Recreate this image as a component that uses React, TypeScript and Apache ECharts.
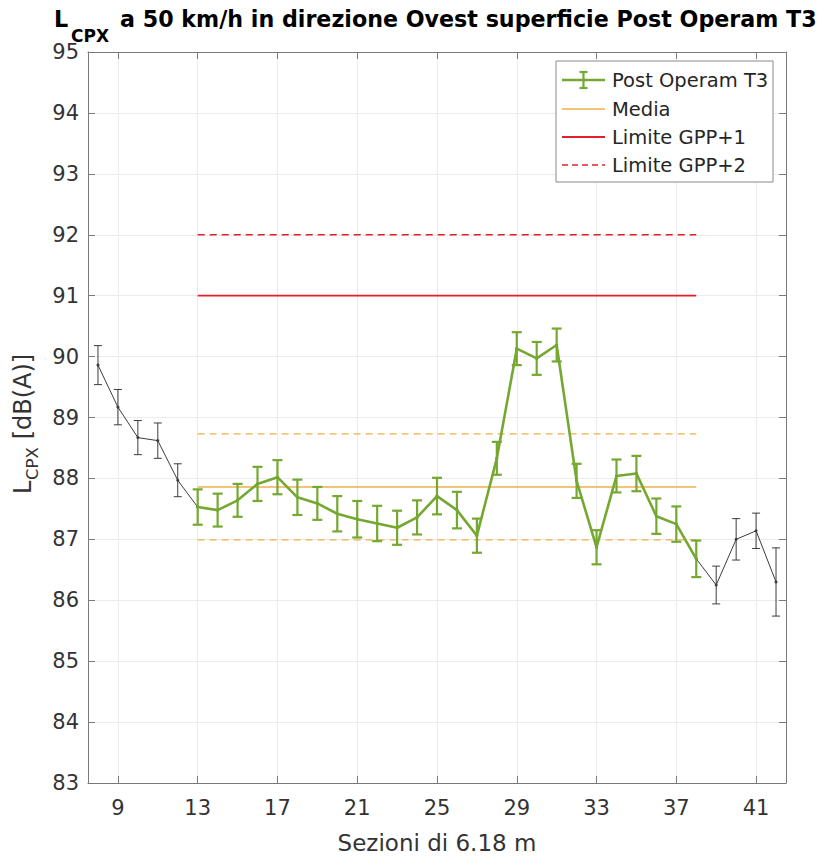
import React, { useEffect, useRef } from "react";
import * as echarts from "echarts";

// ---- data ----
const sections = [8, 9, 10, 11, 12, 13, 14, 15, 16, 17, 18, 19, 20, 21, 22, 23, 24, 25, 26, 27, 28, 29, 30, 31, 32, 33, 34, 35, 36, 37, 38, 39, 40, 41, 42];
const levels = [89.86, 89.17, 88.67, 88.62, 87.97, 87.53, 87.48, 87.64, 87.91, 88.02, 87.69, 87.59, 87.42, 87.33, 87.26, 87.19, 87.36, 87.71, 87.48, 87.06, 88.33, 90.13, 89.97, 90.19, 87.96, 86.87, 88.04, 88.08, 87.38, 87.25, 86.68, 86.25, 87.0, 87.14, 86.3];
const errors = [0.32, 0.29, 0.28, 0.29, 0.27, 0.29, 0.27, 0.27, 0.28, 0.28, 0.29, 0.27, 0.29, 0.3, 0.29, 0.28, 0.28, 0.3, 0.3, 0.28, 0.27, 0.27, 0.27, 0.27, 0.28, 0.28, 0.27, 0.29, 0.29, 0.29, 0.3, 0.31, 0.34, 0.29, 0.56];
const segmentStart = 13;
const segmentEnd = 38;
const mediaValue = 87.86;
const mediaUpper = 88.73;
const mediaLower = 86.99;
const limitGpp1 = 91;
const limitGpp2 = 92;
const xTickValues = [9, 13, 17, 21, 25, 29, 33, 37, 41];
const xMin = 7.5;
const xMax = 42.5;
const yMin = 83;
const yMax = 95;

const titleMain = "L";
const titleSub = "CPX";
const titleRest = "a 50 km/h in direzione Ovest superficie Post Operam T3";
const xName = "Sezioni di 6.18 m";
const yNameMain = "L";
const yNameSub = "CPX";
const yNameRest = " [dB(A)]";
const legendNames = ["Post Operam T3", "Media", "Limite GPP+1", "Limite GPP+2"];

const GREEN = "#74A830";
const BLACK = "#3c3c3c";
const ORANGE = "#EDB04E";
const RED = "#E3202A";
const FONT = "DejaVu Sans";

function errorBarSeries(name: string, data: number[][], color: string, lw: number, cap: number, z: number) {
  return {
    type: "custom",
    name,
    z,
    data,
    encode: { x: 0, y: [1, 2] },
    renderItem: (params: any, api: any) => {
      const x = api.value(0);
      const lo = api.coord([x, api.value(1)]);
      const hi = api.coord([x, api.value(2)]);
      const st = { stroke: color, lineWidth: lw };
      const h = cap / 2;
      return {
        type: "group",
        children: [
          { type: "line", shape: { x1: lo[0], y1: lo[1], x2: hi[0], y2: hi[1] }, style: st },
          { type: "line", shape: { x1: lo[0] - h, y1: lo[1], x2: lo[0] + h, y2: lo[1] }, style: st },
          { type: "line", shape: { x1: hi[0] - h, y1: hi[1], x2: hi[0] + h, y2: hi[1] }, style: st },
        ],
      };
    },
  };
}

function hLine(name: string, y: number, color: string, width: number, dashed: boolean, z: number) {
  return {
    type: "line",
    name,
    z,
    data: [[segmentStart, y], [segmentEnd, y]],
    symbol: "none",
    lineStyle: { color, width, type: dashed ? [7, 5] : "solid" },
    silent: true,
  };
}

export default function App() {
  const ref = useRef<HTMLDivElement>(null);
  useEffect(() => {
    if (!ref.current) return;
    const chart = echarts.init(ref.current, undefined, { renderer: "svg" });

    const allPts = sections.map((x, i) => [x, levels[i]]);
    const greenIdx = sections.map((x, i) => i).filter((i) => sections[i] >= segmentStart && sections[i] <= segmentEnd);
    const greenPts = greenIdx.map((i) => [sections[i], levels[i]]);
    const greenErr = greenIdx.map((i) => [sections[i], levels[i] - errors[i], levels[i] + errors[i]]);
    const blackErr = sections
      .map((x, i) => i)
      .filter((i) => sections[i] < segmentStart || sections[i] > segmentEnd)
      .map((i) => [sections[i], levels[i] - errors[i], levels[i] + errors[i]]);

    const axisLineStyle = { color: "#7a7a7a", width: 1 };
    const labelStyle = { fontSize: 21, color: "#333", fontFamily: FONT };

    // legend geometry
    const lx = 556, ly = 61, lw = 217, lh = 121;
    const rowY = [80, 109, 137, 165];
    const sx1 = 562, sx2 = 605, tx = 612;

    const option: any = {
      animation: false,
      backgroundColor: "#fff",
      grid: { left: 88, right: 38, top: 52, bottom: 76, containLabel: false },
      xAxis: [
        {
          type: "value",
          min: xMin,
          max: xMax,
          position: "bottom",
          axisLine: { show: true, lineStyle: axisLineStyle },
          axisTick: { show: true, inside: true, length: 7, customValues: xTickValues, lineStyle: axisLineStyle },
          axisLabel: { show: true, customValues: xTickValues, margin: 14, ...labelStyle },
          splitLine: { show: true, lineStyle: { color: "#ebebeb", width: 1 } },
        },
        {
          type: "value",
          min: xMin,
          max: xMax,
          position: "top",
          axisLine: { show: true, lineStyle: axisLineStyle },
          axisTick: { show: true, inside: true, length: 7, customValues: xTickValues, lineStyle: axisLineStyle },
          axisLabel: { show: false },
          splitLine: { show: false },
        },
      ],
      yAxis: [
        {
          type: "value",
          min: yMin,
          max: yMax,
          interval: 1,
          position: "left",
          axisLine: { show: true, lineStyle: axisLineStyle },
          axisTick: { show: true, inside: true, length: 7, lineStyle: axisLineStyle },
          axisLabel: { show: true, margin: 9, ...labelStyle },
          splitLine: { show: true, lineStyle: { color: "#ebebeb", width: 1 } },
        },
        {
          type: "value",
          min: yMin,
          max: yMax,
          interval: 1,
          position: "right",
          axisLine: { show: true, lineStyle: axisLineStyle },
          axisTick: { show: true, inside: true, length: 7, lineStyle: axisLineStyle },
          axisLabel: { show: false },
          splitLine: { show: false },
        },
      ],
      series: [
        hLine("Limite GPP+2", limitGpp2, RED, 1.3, true, 3),
        hLine("Limite GPP+1", limitGpp1, RED, 1.8, false, 3),
        hLine("Media +", mediaUpper, ORANGE, 1.2, true, 3),
        hLine("Media -", mediaLower, ORANGE, 1.2, true, 3),
        hLine("Media", mediaValue, ORANGE, 1.6, false, 3),
        {
          type: "line",
          name: "all",
          z: 4,
          data: allPts,
          symbol: "circle",
          symbolSize: 3,
          itemStyle: { color: BLACK },
          lineStyle: { color: BLACK, width: 1 },
        },
        errorBarSeries("errAll", blackErr, BLACK, 1, 8, 4),
        {
          type: "line",
          name: "Post Operam T3",
          z: 6,
          data: greenPts,
          symbol: "none",
          lineStyle: { color: GREEN, width: 2.6 },
        },
        errorBarSeries("errGreen", greenErr, GREEN, 2.2, 10, 6),
      ],
      graphic: [
        // title
        { type: "text", left: 54, top: 8, style: { text: titleMain, font: `bold 22.3px '${FONT}'`, fill: "#000" } },
        { type: "text", left: 71, top: 27, style: { text: titleSub, font: `bold 17px '${FONT}'`, fill: "#000" } },
        { type: "text", left: 120, top: 8, style: { text: titleRest, font: `bold 22.2px '${FONT}'`, fill: "#000" } },
        // x name
        {
          type: "text",
          x: 437,
          y: 843,
          style: { text: xName, font: `23px '${FONT}'`, fill: "#333", align: "center", verticalAlign: "middle" },
        },
        // y name (rotated group)
        {
          type: "group",
          x: 23,
          y: 494,
          rotation: Math.PI / 2,
          children: [
            { type: "text", x: 0, y: 0, style: { text: yNameMain, font: `24px '${FONT}'`, fill: "#333", verticalAlign: "middle" } },
            { type: "text", x: 14, y: 9, style: { text: yNameSub, font: `16.5px '${FONT}'`, fill: "#333", verticalAlign: "middle" } },
            { type: "text", x: 47, y: 0, style: { text: yNameRest, font: `24px '${FONT}'`, fill: "#333", verticalAlign: "middle" } },
          ],
        },
        // legend
        {
          type: "group",
          children: [
            { type: "rect", shape: { x: lx, y: ly, width: lw, height: lh }, style: { fill: "#fff", stroke: "#8a8a8a", lineWidth: 1 }, z: 10 },
            { type: "line", shape: { x1: sx1, y1: rowY[0], x2: sx2, y2: rowY[0] }, style: { stroke: GREEN, lineWidth: 2.6 }, z: 11 },
            { type: "line", shape: { x1: (sx1 + sx2) / 2, y1: rowY[0] - 8, x2: (sx1 + sx2) / 2, y2: rowY[0] + 8 }, style: { stroke: GREEN, lineWidth: 2.2 }, z: 11 },
            { type: "line", shape: { x1: (sx1 + sx2) / 2 - 4, y1: rowY[0] - 8, x2: (sx1 + sx2) / 2 + 4, y2: rowY[0] - 8 }, style: { stroke: GREEN, lineWidth: 2.2 }, z: 11 },
            { type: "line", shape: { x1: (sx1 + sx2) / 2 - 4, y1: rowY[0] + 8, x2: (sx1 + sx2) / 2 + 4, y2: rowY[0] + 8 }, style: { stroke: GREEN, lineWidth: 2.2 }, z: 11 },
            { type: "line", shape: { x1: sx1, y1: rowY[1], x2: sx2, y2: rowY[1] }, style: { stroke: ORANGE, lineWidth: 1.6 }, z: 11 },
            { type: "line", shape: { x1: sx1, y1: rowY[2], x2: sx2, y2: rowY[2] }, style: { stroke: RED, lineWidth: 1.8 }, z: 11 },
            { type: "line", shape: { x1: sx1, y1: rowY[3], x2: sx2, y2: rowY[3] }, style: { stroke: RED, lineWidth: 1.3, lineDash: [6, 4] }, z: 11 },
            ...legendNames.map((n, i) => ({
              type: "text",
              x: tx,
              y: rowY[i],
              z: 11,
              style: { text: n, font: `19.5px '${FONT}'`, fill: "#262626", verticalAlign: "middle" },
            })),
          ],
        },
      ],
    };
    chart.setOption(option);
    return () => chart.dispose();
  }, []);
  return <div ref={ref} style={{ position: "absolute", left: 0, top: 0, width: 824, height: 859 }} />;
}
